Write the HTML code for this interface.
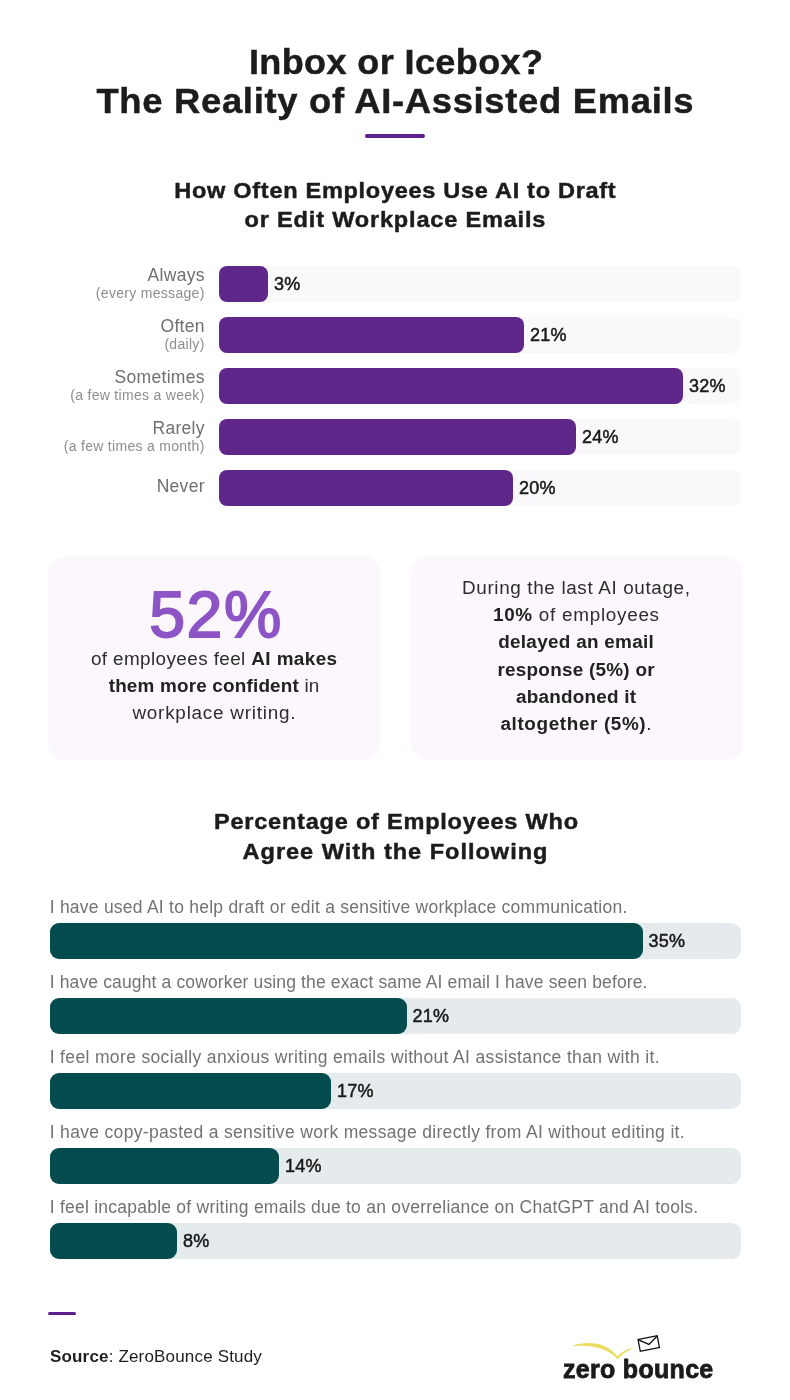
<!DOCTYPE html>
<html><head><meta charset="utf-8">
<style>
*{margin:0;padding:0;box-sizing:border-box}
html,body{width:790px;height:1400px;background:#fff;overflow:hidden}
body{will-change:transform;position:relative;font-family:"Liberation Sans",sans-serif;color:#1e1e1e}
div{position:absolute;white-space:nowrap}
.h{font-weight:bold;color:#1c1c1c;text-align:center;-webkit-text-stroke:0.45px #1c1c1c}
.rule{height:4px;border-radius:2px;background:#5b1f8e}
.lm{color:#6f6f6f}
.ls{color:#8d8d8d}
.track{left:219px;width:521px;height:36px;border-radius:7px;background:#fbf8fc}
.bar{left:219px;height:36px;border-radius:8px;background:#60278a}
.pct{color:#1a1a1a;-webkit-text-stroke:0.5px #1a1a1a}
.box{top:557px;width:330px;height:201px;border-radius:14px;background:#fbf7fc;box-shadow:0 1px 3px rgba(120,80,140,0.06)}
.big{color:#8c54c5;text-align:center;-webkit-text-stroke:1.8px #8c54c5}
.bt{color:#2d2d2d;text-align:center}
.bt b{color:#222}
.q{color:#727272}
.t2{left:50px;width:691px;height:36px;border-radius:9px;background:#e5eaec}
.b2{left:50px;height:36px;border-radius:9px;background:#044b4d}
.logo{font-weight:bold;color:#1a1a1a;-webkit-text-stroke:0.8px #1a1a1a}
</style></head>
<body>
<div class="h" style="left:95.50px;top:39.27px;width:600px;line-height:46px;font-size:35px;letter-spacing:0.368px;padding-left:0.368px;transform:scaleX(1.03);transform-origin:300.0px 0;">Inbox or Icebox?</div>
<div class="h" style="left:45.00px;top:78.27px;width:700px;line-height:46px;font-size:35px;letter-spacing:0.659px;padding-left:0.659px;transform:scaleX(1.04);transform-origin:350.0px 0;">The Reality of AI-Assisted Emails</div>
<div class="rule" style="left:365px;top:133.5px;width:60px"></div>
<div class="h" style="left:94.50px;top:175.58px;width:600px;line-height:29px;font-size:22px;letter-spacing:0.651px;padding-left:0.651px;transform:scaleX(1.07);transform-origin:300.0px 0;">How Often Employees Use AI to Draft</div>
<div class="h" style="left:94.50px;top:204.98px;width:600px;line-height:29px;font-size:22px;letter-spacing:0.758px;padding-left:0.758px;transform:scaleX(1.07);transform-origin:300.0px 0;">or Edit Workplace Emails</div>
<div class="track" style="top:266px"></div><div class="bar" style="top:266px;width:49px"></div>
<div class="lm" style="right:585.20px;top:264.24px;line-height:23px;font-size:17.5px;letter-spacing:0.3px;text-align:right">Always</div>
<div class="ls" style="right:585.40px;top:283.75px;line-height:18px;font-size:14px;letter-spacing:0.3px;text-align:right">(every message)</div>
<div class="pct" style="left:274.00px;top:273.06px;line-height:23px;font-size:18px;letter-spacing:0.25px;">3%</div>
<div class="track" style="top:317px"></div><div class="bar" style="top:317px;width:305px"></div>
<div class="lm" style="right:585.20px;top:315.24px;line-height:23px;font-size:17.5px;letter-spacing:0.3px;text-align:right">Often</div>
<div class="ls" style="right:585.40px;top:334.75px;line-height:18px;font-size:14px;letter-spacing:0.3px;text-align:right">(daily)</div>
<div class="pct" style="left:530.00px;top:324.06px;line-height:23px;font-size:18px;letter-spacing:0.25px;">21%</div>
<div class="track" style="top:368px"></div><div class="bar" style="top:368px;width:464px"></div>
<div class="lm" style="right:585.20px;top:366.24px;line-height:23px;font-size:17.5px;letter-spacing:0.3px;text-align:right">Sometimes</div>
<div class="ls" style="right:585.40px;top:385.75px;line-height:18px;font-size:14px;letter-spacing:0.3px;text-align:right">(a few times a week)</div>
<div class="pct" style="left:689.00px;top:375.06px;line-height:23px;font-size:18px;letter-spacing:0.25px;">32%</div>
<div class="track" style="top:419px"></div><div class="bar" style="top:419px;width:357px"></div>
<div class="lm" style="right:585.20px;top:417.24px;line-height:23px;font-size:17.5px;letter-spacing:0.3px;text-align:right">Rarely</div>
<div class="ls" style="right:585.40px;top:436.75px;line-height:18px;font-size:14px;letter-spacing:0.3px;text-align:right">(a few times a month)</div>
<div class="pct" style="left:582.00px;top:426.06px;line-height:23px;font-size:18px;letter-spacing:0.25px;">24%</div>
<div class="track" style="top:470px"></div><div class="bar" style="top:470px;width:294px"></div>
<div class="lm" style="right:585.20px;top:475.24px;line-height:23px;font-size:17.5px;letter-spacing:0.3px;text-align:right">Never</div>
<div class="pct" style="left:519.00px;top:477.06px;line-height:23px;font-size:18px;letter-spacing:0.25px;">20%</div>
<div class="box" style="left:49px"></div><div class="box" style="left:412px"></div>
<div class="big" style="left:15.30px;top:572.95px;width:400px;line-height:84px;font-size:64.5px;letter-spacing:1.500px;padding-left:1.500px;">52%</div>
<div class="bt" style="left:49.30px;top:647.76px;width:330px;line-height:23px;font-size:18px;letter-spacing:0.373px;padding-left:0.373px;transform:scaleX(1.05);transform-origin:165.0px 0;">of employees feel <b>AI makes</b></div>
<div class="bt" style="left:49.30px;top:674.96px;width:330px;line-height:23px;font-size:18px;letter-spacing:0.172px;padding-left:0.172px;transform:scaleX(1.05);transform-origin:165.0px 0;"><b>them more confident</b> in</div>
<div class="bt" style="left:49.30px;top:702.06px;width:330px;line-height:23px;font-size:18px;letter-spacing:0.723px;padding-left:0.723px;transform:scaleX(1.05);transform-origin:165.0px 0;">workplace writing.</div>
<div class="bt" style="left:411.30px;top:576.56px;width:330px;line-height:23px;font-size:18px;letter-spacing:0.598px;padding-left:0.598px;transform:scaleX(1.05);transform-origin:165.0px 0;">During the last AI outage,</div>
<div class="bt" style="left:411.30px;top:603.86px;width:330px;line-height:23px;font-size:18px;letter-spacing:0.676px;padding-left:0.676px;transform:scaleX(1.05);transform-origin:165.0px 0;"><b>10%</b> of employees</div>
<div class="bt" style="left:411.30px;top:631.26px;width:330px;line-height:23px;font-size:18px;letter-spacing:0.279px;padding-left:0.279px;transform:scaleX(1.05);transform-origin:165.0px 0;"><b>delayed an email</b></div>
<div class="bt" style="left:411.30px;top:658.56px;width:330px;line-height:23px;font-size:18px;letter-spacing:0.238px;padding-left:0.238px;transform:scaleX(1.05);transform-origin:165.0px 0;"><b>response (5%) or</b></div>
<div class="bt" style="left:411.30px;top:685.76px;width:330px;line-height:23px;font-size:18px;letter-spacing:0.208px;padding-left:0.208px;transform:scaleX(1.05);transform-origin:165.0px 0;"><b>abandoned it</b></div>
<div class="bt" style="left:411.30px;top:712.96px;width:330px;line-height:23px;font-size:18px;letter-spacing:0.590px;padding-left:0.590px;transform:scaleX(1.05);transform-origin:165.0px 0;"><b>altogether (5%)</b>.</div>
<div class="h" style="left:95.50px;top:806.88px;width:600px;line-height:29px;font-size:22px;letter-spacing:0.723px;padding-left:0.723px;transform:scaleX(1.07);transform-origin:300.0px 0;">Percentage of Employees Who</div>
<div class="h" style="left:95.00px;top:836.58px;width:600px;line-height:29px;font-size:22px;letter-spacing:0.918px;padding-left:0.918px;transform:scaleX(1.07);transform-origin:300.0px 0;">Agree With the Following</div>
<div class="q" style="left:49.70px;top:895.54px;line-height:23px;font-size:17.5px;letter-spacing:0.24px;">I have used AI to help draft or edit a sensitive workplace communication.</div>
<div class="t2" style="top:922.5px"></div><div class="b2" style="top:922.5px;width:592.5px"></div>
<div class="pct" style="left:648.50px;top:929.76px;line-height:23px;font-size:18px;letter-spacing:0.3px;">35%</div>
<div class="q" style="left:49.70px;top:970.54px;line-height:23px;font-size:17.5px;letter-spacing:0.14px;">I have caught a coworker using the exact same AI email I have seen before.</div>
<div class="t2" style="top:997.5px"></div><div class="b2" style="top:997.5px;width:356.5px"></div>
<div class="pct" style="left:412.50px;top:1004.76px;line-height:23px;font-size:18px;letter-spacing:0.3px;">21%</div>
<div class="q" style="left:49.70px;top:1045.54px;line-height:23px;font-size:17.5px;letter-spacing:0.35px;">I feel more socially anxious writing emails without AI assistance than with it.</div>
<div class="t2" style="top:1072.5px"></div><div class="b2" style="top:1072.5px;width:281px"></div>
<div class="pct" style="left:337.00px;top:1079.76px;line-height:23px;font-size:18px;letter-spacing:0.3px;">17%</div>
<div class="q" style="left:49.70px;top:1120.54px;line-height:23px;font-size:17.5px;letter-spacing:0.33px;">I have copy-pasted a sensitive work message directly from AI without editing it.</div>
<div class="t2" style="top:1147.5px"></div><div class="b2" style="top:1147.5px;width:229px"></div>
<div class="pct" style="left:285.00px;top:1154.76px;line-height:23px;font-size:18px;letter-spacing:0.3px;">14%</div>
<div class="q" style="left:49.70px;top:1195.54px;line-height:23px;font-size:17.5px;letter-spacing:0.24px;">I feel incapable of writing emails due to an overreliance on ChatGPT and AI tools.</div>
<div class="t2" style="top:1222.5px"></div><div class="b2" style="top:1222.5px;width:127px"></div>
<div class="pct" style="left:183.00px;top:1229.76px;line-height:23px;font-size:18px;letter-spacing:0.3px;">8%</div>
<div class="rule" style="left:48px;top:1311.5px;width:27.5px;height:3px"></div>
<div class="src" style="left:50.00px;top:1345.91px;line-height:22px;font-size:17px;letter-spacing:0.17px;"><b>Source</b>: ZeroBounce Study</div>
<svg style="position:absolute;left:560px;top:1325px" width="170" height="65" viewBox="0 0 170 65">
<path d="M13.5 20.4 C 27 16.2, 46 16.5, 57.3 31.2 C 61 27.5, 66 24.5, 71.2 23.3 L 71.4 24.3 C 66.5 26.5, 61.5 29.5, 57.6 34.2 C 47 22.5, 30 19.5, 13.6 21.2 Z" fill="#e9dc62"/>
<g transform="rotate(-11 88.5 18.5)"><rect x="79" y="12.5" width="19.5" height="12" fill="#fff" stroke="#111" stroke-width="1.3"/><path d="M79 12.8 L88.75 19.5 L98.5 12.8" fill="none" stroke="#111" stroke-width="1.3"/></g>
</svg>
<div class="logo" style="left:563.00px;top:1352.94px;line-height:32px;font-size:25px;letter-spacing:0.3px;">zero bounce</div>
</body></html>
